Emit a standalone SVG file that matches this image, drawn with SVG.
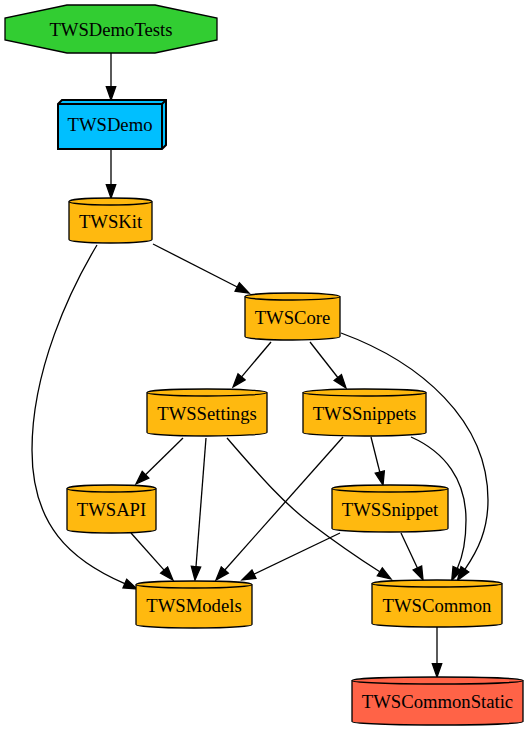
<svg xmlns="http://www.w3.org/2000/svg" width="527" height="731" viewBox="0 0 527 731">
<style>
text{font-family:"Liberation Serif","Times New Roman",serif;font-size:18.67px;text-anchor:middle;fill:#000}
.cyl{fill:#FFB90F;stroke:#000;stroke-width:1.3}
.cap{fill:none;stroke:#000;stroke-width:1.3}
.e{fill:none;stroke:#000;stroke-width:1.3}
</style>
<defs>
<marker id="ah" markerUnits="userSpaceOnUse" markerWidth="16" markerHeight="12" viewBox="-1 -6 16 12" refX="0" refY="0" orient="auto">
<path d="M0,-4.7 L13.3,0 L0,4.7 Z" fill="#000" stroke="#000" stroke-width="1.3"/>
</marker>
</defs>
<rect width="527" height="731" fill="#fff"/>
<g id="edges">
<path class="e" marker-end="url(#ah)" d="M111,53 L111,86.7"/>
<path class="e" marker-end="url(#ah)" d="M111,149 L111,184.7"/>
<path class="e" marker-end="url(#ah)" d="M153,244 L237.2,287"/>
<path class="e" marker-end="url(#ah)" d="M97,245 C70,290 32,370 32,450 C32,525 70,560 124.8,583.6"/>
<path class="e" marker-end="url(#ah)" d="M271,342 L241.6,376.8"/>
<path class="e" marker-end="url(#ah)" d="M310,342 L337.8,377.5"/>
<path class="e" marker-end="url(#ah)" d="M341,333 C420,362 488,420 488,500 C488,530 478,550 464.9,569.3"/>
<path class="e" marker-end="url(#ah)" d="M411,437 C445,452 466,480 466,520 C466,540 463,556 457.3,568.4"/>
<path class="e" marker-end="url(#ah)" d="M371,437 L379.8,472.1"/>
<path class="e" marker-end="url(#ah)" d="M343,437 L224.8,570"/>
<path class="e" marker-end="url(#ah)" d="M183,438 L145.5,474.7"/>
<path class="e" marker-end="url(#ah)" d="M206,438 L196,566.7"/>
<path class="e" marker-end="url(#ah)" d="M227,438 C255,470 280,500 310,523 C335,542 355,556 379.8,571.8"/>
<path class="e" marker-end="url(#ah)" d="M131,533 L164.1,570.1"/>
<path class="e" marker-end="url(#ah)" d="M340,533 L254,574.2"/>
<path class="e" marker-end="url(#ah)" d="M401,533 L417.4,568"/>
<path class="e" marker-end="url(#ah)" d="M437,627 L437,663.7"/>
</g>
<g id="TWSDemoTests">
<polygon points="155,5 217,18 217,40 155,53 67,53 5,40 5,18 67,5" fill="#32CD32" stroke="#000" stroke-width="1.3"/>
<text x="111" y="36">TWSDemoTests</text>
</g>
<g id="TWSDemo">
<path d="M58,104 L62,100 L166,100 L166,145 L162,149 L58,149 Z" fill="#00BFFF" stroke="#000" stroke-width="2"/>
<path d="M58,104 L162,104 L162,149 M162,104 L166,100" fill="none" stroke="#000" stroke-width="2"/>
<text x="110" y="131">TWSDemo</text>
</g>
<g id="TWSKit">
<path class="cyl" d="M69,201.5 A41.5,3.5 0 0 1 152,201.5 V239.5 A41.5,3.5 0 0 1 69,239.5 Z"/>
<path class="cap" d="M152,201.5 A41.5,3.5 0 0 1 69,201.5"/>
<text x="110.5" y="228">TWSKit</text>
</g>
<g id="TWSCore">
<path class="cyl" d="M245,296.5 A47.5,3.5 0 0 1 340,296.5 V336.5 A47.5,3.5 0 0 1 245,336.5 Z"/>
<path class="cap" d="M340,296.5 A47.5,3.5 0 0 1 245,296.5"/>
<text x="292.5" y="324">TWSCore</text>
</g>
<g id="TWSSettings">
<path class="cyl" d="M147,392.5 A60,3.5 0 0 1 267,392.5 V432.5 A60,3.5 0 0 1 147,432.5 Z"/>
<path class="cap" d="M267,392.5 A60,3.5 0 0 1 147,392.5"/>
<text x="207" y="420">TWSSettings</text>
</g>
<g id="TWSSnippets">
<path class="cyl" d="M303,392.5 A61.5,3.5 0 0 1 426,392.5 V432.5 A61.5,3.5 0 0 1 303,432.5 Z"/>
<path class="cap" d="M426,392.5 A61.5,3.5 0 0 1 303,392.5"/>
<text x="364.5" y="420">TWSSnippets</text>
</g>
<g id="TWSAPI">
<path class="cyl" d="M67,488.5 A44.5,3.5 0 0 1 156,488.5 V529.5 A44.5,3.5 0 0 1 67,529.5 Z"/>
<path class="cap" d="M156,488.5 A44.5,3.5 0 0 1 67,488.5"/>
<text x="111.5" y="516">TWSAPI</text>
</g>
<g id="TWSSnippet">
<path class="cyl" d="M332,488.5 A58,3.5 0 0 1 448,488.5 V528.5 A58,3.5 0 0 1 332,528.5 Z"/>
<path class="cap" d="M448,488.5 A58,3.5 0 0 1 332,488.5"/>
<text x="390" y="516">TWSSnippet</text>
</g>
<g id="TWSModels">
<path class="cyl" d="M136,584.5 A58,3.5 0 0 1 252,584.5 V624.5 A58,3.5 0 0 1 136,624.5 Z"/>
<path class="cap" d="M252,584.5 A58,3.5 0 0 1 136,584.5"/>
<text x="194" y="612">TWSModels</text>
</g>
<g id="TWSCommon">
<path class="cyl" d="M372,583.5 A65,3.5 0 0 1 502,583.5 V623.5 A65,3.5 0 0 1 372,623.5 Z"/>
<path class="cap" d="M502,583.5 A65,3.5 0 0 1 372,583.5"/>
<text x="437" y="612">TWSCommon</text>
</g>
<g id="TWSCommonStatic">
<path class="cyl" style="fill:#FF6347" d="M352,680.5 A85.5,3.5 0 0 1 523,680.5 V721.5 A85.5,3.5 0 0 1 352,721.5 Z"/>
<path class="cap" d="M523,680.5 A85.5,3.5 0 0 1 352,680.5"/>
<text x="437.5" y="708">TWSCommonStatic</text>
</g>
</svg>
